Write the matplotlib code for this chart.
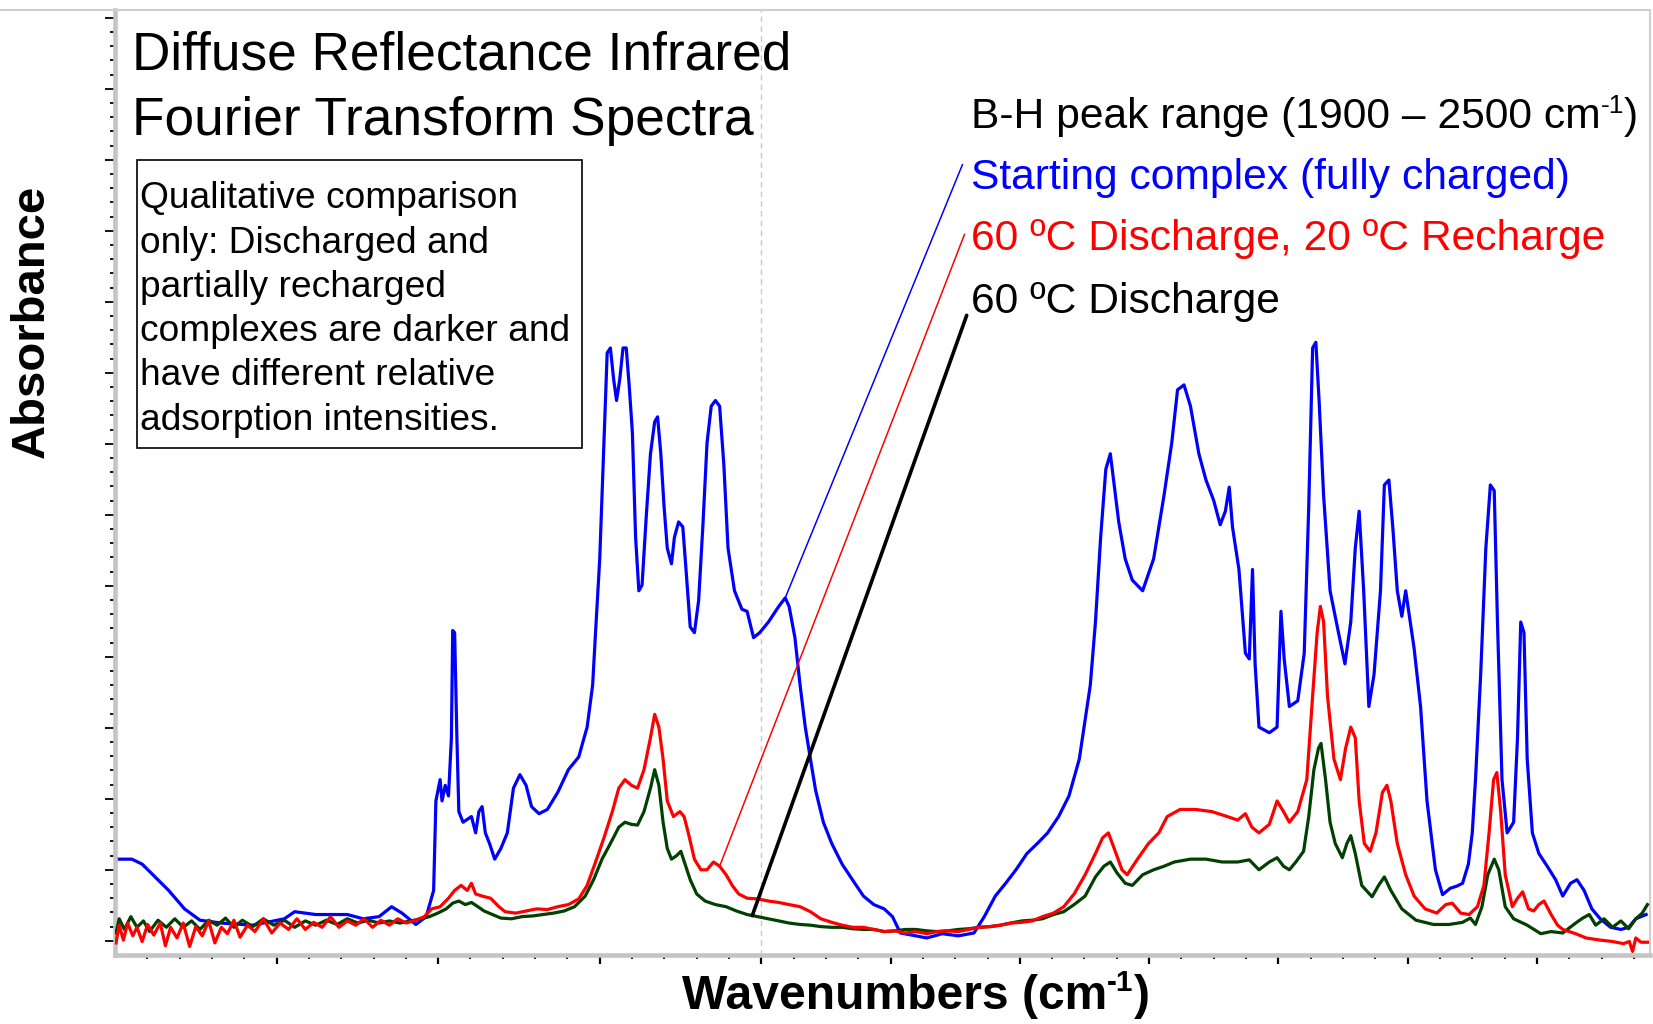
import matplotlib
matplotlib.use("Agg")
import matplotlib.pyplot as plt
import numpy as np
from matplotlib.patches import Rectangle
from matplotlib.lines import Line2D
from matplotlib.ticker import FixedLocator, NullFormatter

plt.rcParams["font.family"] = ["Liberation Sans", "DejaVu Sans"]

# --- spectra (wavenumber in cm-1, absorbance a.u.) ---
blue_wn = [3997, 3948, 3916, 3867, 3834, 3785, 3737, 3671, 3574, 3476,
           3444, 3379, 3281, 3232, 3183, 3144, 3112, 3069, 3037, 3014,
           3007, 2994, 2988, 2978, 2968, 2959, 2955, 2949, 2942, 2936,
           2923, 2897, 2884, 2874, 2864, 2854, 2841, 2825, 2806, 2786,
           2767, 2747, 2728, 2711, 2688, 2662, 2630, 2597, 2565, 2539,
           2522, 2513, 2500, 2487, 2477, 2467, 2457, 2448, 2438, 2428,
           2418, 2409, 2399, 2389, 2379, 2369, 2356, 2343, 2330, 2321,
           2311, 2301, 2291, 2278, 2269, 2256, 2243, 2233, 2220, 2207,
           2194, 2181, 2168, 2155, 2142, 2129, 2116, 2103, 2083, 2060,
           2044, 2024, 2005, 1989, 1973, 1963, 1957, 1948, 1940, 1932,
           1924, 1916, 1904, 1891, 1875, 1859, 1842, 1826, 1810, 1797,
           1785, 1761, 1744, 1720, 1695, 1671, 1655, 1638, 1622, 1606,
           1589, 1573, 1557, 1540, 1524, 1508, 1491, 1483, 1475, 1467,
           1460, 1454, 1447, 1437, 1426, 1410, 1393, 1377, 1365, 1356,
           1346, 1336, 1323, 1312, 1300, 1290, 1282, 1276, 1271, 1261,
           1251, 1245, 1240, 1236, 1230, 1214, 1202, 1196, 1191, 1183,
           1170, 1160, 1153, 1147, 1142, 1137, 1130, 1120, 1107, 1097,
           1088, 1081, 1075, 1068, 1060, 1052, 1042, 1036, 1029, 1023,
           1016, 1009, 1003, 996, 990, 980, 970, 957, 946, 934,
           924, 915, 906, 900, 895, 887, 879, 872, 866, 861,
           854, 846, 836, 830, 825, 820, 815, 807, 797, 784,
           771, 760, 748, 738, 727, 715, 702, 686, 670, 658,
           647, 639, 631]
blue_abs = [0.115, 0.115, 0.108, 0.086, 0.071, 0.045, 0.029, 0.025, 0.022, 0.031,
            0.041, 0.037, 0.037, 0.031, 0.034, 0.048, 0.039, 0.023, 0.034, 0.071,
            0.197, 0.227, 0.197, 0.219, 0.204, 0.286, 0.437, 0.434, 0.286, 0.182,
            0.167, 0.175, 0.152, 0.182, 0.189, 0.152, 0.137, 0.115, 0.130, 0.152,
            0.215, 0.234, 0.219, 0.189, 0.179, 0.185, 0.209, 0.241, 0.259, 0.301,
            0.360, 0.434, 0.538, 0.701, 0.828, 0.835, 0.791, 0.761, 0.791, 0.835,
            0.835, 0.783, 0.716, 0.568, 0.493, 0.501, 0.598, 0.686, 0.731, 0.738,
            0.686, 0.612, 0.553, 0.531, 0.568, 0.590, 0.583, 0.523, 0.442, 0.434,
            0.479, 0.583, 0.701, 0.753, 0.761, 0.753, 0.671, 0.553, 0.493, 0.467,
            0.464, 0.427, 0.434, 0.449, 0.471, 0.483, 0.471, 0.427, 0.360, 0.301,
            0.256, 0.212, 0.167, 0.137, 0.108, 0.086, 0.063, 0.051, 0.045, 0.034,
            0.011, 0.007, 0.004, 0.010, 0.007, 0.011, 0.034, 0.063, 0.081, 0.100,
            0.123, 0.137, 0.152, 0.175, 0.204, 0.256, 0.360, 0.449, 0.568, 0.664,
            0.686, 0.642, 0.590, 0.538, 0.508, 0.493, 0.538, 0.627, 0.701, 0.776,
            0.783, 0.753, 0.686, 0.649, 0.620, 0.586, 0.605, 0.639, 0.583, 0.523,
            0.405, 0.397, 0.523, 0.390, 0.301, 0.293, 0.301, 0.464, 0.397, 0.330,
            0.338, 0.405, 0.612, 0.835, 0.843, 0.761, 0.627, 0.493, 0.434, 0.390,
            0.449, 0.553, 0.605, 0.493, 0.330, 0.375, 0.493, 0.642, 0.649, 0.583,
            0.493, 0.457, 0.493, 0.449, 0.412, 0.330, 0.197, 0.100, 0.065, 0.074,
            0.077, 0.081, 0.108, 0.152, 0.227, 0.375, 0.553, 0.642, 0.634, 0.449,
            0.227, 0.152, 0.167, 0.286, 0.449, 0.434, 0.256, 0.152, 0.123, 0.105,
            0.086, 0.063, 0.081, 0.086, 0.071, 0.045, 0.031, 0.019, 0.016, 0.019,
            0.031, 0.034, 0.037]

red_wn = [3997, 3987, 3974, 3961, 3945, 3932, 3916, 3899, 3880, 3860,
          3844, 3828, 3808, 3789, 3769, 3750, 3730, 3710, 3691, 3671,
          3652, 3632, 3613, 3590, 3567, 3541, 3515, 3489, 3463, 3437,
          3411, 3385, 3359, 3333, 3307, 3281, 3255, 3229, 3203, 3177,
          3151, 3125, 3099, 3069, 3043, 3020, 2994, 2968, 2949, 2929,
          2910, 2897, 2884, 2864, 2838, 2812, 2793, 2760, 2728, 2695,
          2662, 2630, 2597, 2565, 2539, 2513, 2487, 2461, 2441, 2422,
          2402, 2383, 2363, 2343, 2330, 2317, 2304, 2291, 2272, 2252,
          2239, 2226, 2207, 2187, 2168, 2148, 2129, 2109, 2090, 2070,
          2044, 2011, 1989, 1973, 1957, 1940, 1924, 1908, 1891, 1875,
          1859, 1842, 1826, 1810, 1793, 1777, 1761, 1744, 1728, 1712,
          1695, 1679, 1663, 1646, 1630, 1614, 1597, 1581, 1565, 1548,
          1532, 1516, 1499, 1483, 1472, 1463, 1454, 1442, 1434, 1418,
          1401, 1385, 1372, 1352, 1328, 1303, 1279, 1263, 1251, 1241,
          1230, 1214, 1202, 1192, 1183, 1170, 1156, 1147, 1140, 1135,
          1130, 1124, 1114, 1104, 1096, 1088, 1081, 1075, 1067, 1058,
          1049, 1039, 1032, 1026, 1016, 1003, 990, 973, 955, 941,
          931, 918, 905, 892, 882, 874, 867, 862, 856, 849,
          838, 830, 822, 813, 805, 797, 789, 778, 768, 760,
          740, 724, 702, 683, 666, 657, 652, 647, 639, 629]
red_abs = [-0.003, 0.022, 0.001, 0.025, 0.007, 0.019, -0.001, 0.023, 0.008, 0.025,
           -0.007, 0.019, 0.004, 0.025, -0.008, 0.020, 0.007, 0.028, -0.003, 0.019,
           0.010, 0.029, 0.005, 0.022, 0.013, 0.031, 0.011, 0.025, 0.016, 0.031,
           0.016, 0.026, 0.019, 0.034, 0.019, 0.028, 0.022, 0.031, 0.019, 0.029,
           0.022, 0.031, 0.025, 0.029, 0.034, 0.045, 0.048, 0.060, 0.071, 0.078,
           0.071, 0.081, 0.066, 0.063, 0.060, 0.048, 0.041, 0.039, 0.042, 0.045,
           0.044, 0.048, 0.051, 0.059, 0.078, 0.111, 0.145, 0.182, 0.215, 0.227,
           0.219, 0.215, 0.241, 0.286, 0.319, 0.301, 0.256, 0.197, 0.175, 0.182,
           0.175, 0.152, 0.115, 0.100, 0.100, 0.111, 0.105, 0.093, 0.078, 0.066,
           0.060, 0.059, 0.056, 0.054, 0.051, 0.048, 0.041, 0.031, 0.026, 0.022,
           0.019, 0.019, 0.016, 0.013, 0.014, 0.011, 0.013, 0.010, 0.013, 0.014,
           0.013, 0.016, 0.019, 0.020, 0.022, 0.025, 0.026, 0.028, 0.034, 0.039,
           0.048, 0.066, 0.093, 0.123, 0.145, 0.152, 0.130, 0.100, 0.093, 0.115,
           0.137, 0.152, 0.175, 0.185, 0.185, 0.182, 0.175, 0.170, 0.179, 0.160,
           0.152, 0.164, 0.197, 0.182, 0.167, 0.182, 0.227, 0.345, 0.434, 0.471,
           0.449, 0.345, 0.256, 0.227, 0.271, 0.301, 0.286, 0.197, 0.137, 0.126,
           0.152, 0.209, 0.219, 0.197, 0.137, 0.093, 0.063, 0.045, 0.039, 0.051,
           0.053, 0.039, 0.037, 0.048, 0.078, 0.152, 0.227, 0.237, 0.182, 0.093,
           0.048, 0.060, 0.069, 0.045, 0.042, 0.051, 0.056, 0.037, 0.022, 0.016,
           0.010, 0.004, 0.001, -0.001, -0.004, -0.001, -0.015, 0.004, -0.002, -0.002]

green_wn = [3997, 3987, 3971, 3951, 3932, 3912, 3893, 3867, 3841, 3815,
            3789, 3763, 3737, 3710, 3684, 3658, 3632, 3606, 3574, 3541,
            3509, 3476, 3444, 3411, 3379, 3346, 3313, 3281, 3248, 3216,
            3183, 3151, 3118, 3086, 3053, 3027, 3001, 2975, 2955, 2936,
            2916, 2897, 2877, 2858, 2832, 2806, 2773, 2741, 2708, 2675,
            2643, 2610, 2578, 2545, 2519, 2493, 2467, 2441, 2422, 2402,
            2383, 2363, 2343, 2330, 2317, 2304, 2291, 2278, 2262, 2249,
            2236, 2220, 2200, 2174, 2142, 2109, 2077, 2044, 2011, 1989,
            1973, 1957, 1940, 1924, 1908, 1891, 1875, 1859, 1842, 1826,
            1810, 1793, 1777, 1761, 1744, 1728, 1712, 1695, 1679, 1663,
            1646, 1630, 1614, 1597, 1581, 1565, 1548, 1532, 1516, 1499,
            1483, 1470, 1460, 1450, 1437, 1426, 1410, 1393, 1377, 1361,
            1336, 1312, 1287, 1263, 1245, 1230, 1214, 1202, 1192, 1183,
            1173, 1161, 1153, 1145, 1138, 1134, 1127, 1120, 1112, 1101,
            1094, 1088, 1081, 1071, 1055, 1045, 1036, 1026, 1009, 987,
            960, 936, 915, 903, 895, 885, 876, 866, 859, 849,
            836, 815, 794, 778, 760, 740, 729, 719, 709, 696,
            683, 670, 658, 647, 637, 629]
green_abs = [0.011, 0.031, 0.016, 0.034, 0.019, 0.028, 0.013, 0.029, 0.019, 0.031,
             0.019, 0.028, 0.016, 0.029, 0.022, 0.032, 0.019, 0.029, 0.020, 0.031,
             0.022, 0.029, 0.019, 0.028, 0.022, 0.029, 0.023, 0.031, 0.025, 0.029,
             0.025, 0.028, 0.025, 0.028, 0.031, 0.034, 0.039, 0.045, 0.053, 0.056,
             0.051, 0.054, 0.048, 0.042, 0.037, 0.032, 0.031, 0.034, 0.035, 0.037,
             0.039, 0.042, 0.048, 0.063, 0.086, 0.115, 0.137, 0.160, 0.167, 0.164,
             0.163, 0.182, 0.215, 0.241, 0.219, 0.167, 0.130, 0.115, 0.120, 0.126,
             0.108, 0.086, 0.066, 0.056, 0.051, 0.048, 0.042, 0.037, 0.034, 0.031,
             0.028, 0.025, 0.023, 0.022, 0.020, 0.019, 0.019, 0.017, 0.016, 0.016,
             0.013, 0.014, 0.016, 0.016, 0.014, 0.013, 0.014, 0.016, 0.017, 0.019,
             0.020, 0.022, 0.025, 0.028, 0.029, 0.031, 0.037, 0.041, 0.051, 0.063,
             0.090, 0.105, 0.111, 0.096, 0.081, 0.078, 0.093, 0.100, 0.105, 0.111,
             0.115, 0.115, 0.111, 0.111, 0.114, 0.100, 0.111, 0.117, 0.105, 0.100,
             0.111, 0.126, 0.175, 0.241, 0.271, 0.278, 0.227, 0.167, 0.137, 0.117,
             0.137, 0.148, 0.123, 0.078, 0.062, 0.078, 0.090, 0.071, 0.045, 0.029,
             0.023, 0.023, 0.026, 0.032, 0.023, 0.048, 0.093, 0.115, 0.100, 0.048,
             0.031, 0.022, 0.010, 0.013, 0.011, 0.025, 0.032, 0.037, 0.022, 0.031,
             0.019, 0.028, 0.017, 0.031, 0.039, 0.051]

title_lines = ["Diffuse Reflectance Infrared", "Fourier Transform Spectra"]
note_lines = ["Qualitative comparison", "only: Discharged and", "partially recharged",
              "complexes are darker and", "have different relative",
              "adsorption intensities."]
range_parts = ("B-H peak range (1900 \u2013 2500 cm", "-1", ")")
xlabel_parts = ("Wavenumbers (cm", "-1", ")")
series_labels = ["Starting complex (fully charged)",
                 "60 \u00baC Discharge, 20 \u00baC Recharge",
                 "60 \u00baC Discharge"]
# wavenumbers where the pointer lines touch each spectrum
pointer_wn = [1963, 2129, 2028]

BLUE, RED, GREEN = "#0000ff", "#ff0000", "#004000"
SPINE = "#c4c4c4"


# OMNIC-style axis: 2000 cm-1 and below is stretched by a factor 2
def _fwd(w):
    w = np.asarray(w, dtype=float)
    return np.where(w >= 2000, w, 2 * w - 2000)


def _inv(u):
    u = np.asarray(u, dtype=float)
    return np.where(u >= 2000, u, (u + 2000) / 2)


def sup_text(fig, x, y, parts, size, ha="left", **kw):
    """Draw base + small raised superscript + tail, as plain text pieces."""
    base, sup, tail = parts
    renderer = fig.canvas.get_renderer()
    fw = fig.bbox.width
    rise = 0.36 * size * fig.dpi / 72 / fig.bbox.height
    pieces = [fig.text(x, y, base, fontsize=size, va="baseline", **kw)]
    pieces.append(fig.text(0, y + rise, sup, fontsize=size * 0.62, va="baseline", **kw))
    pieces.append(fig.text(0, y, tail, fontsize=size, va="baseline", **kw))
    cur = x
    for t in pieces:
        t.set_x(cur)
        cur += t.get_window_extent(renderer).width / fw
    if ha == "center":
        shift = (cur - x) / 2
        for t in pieces:
            t.set_x(t.get_position()[0] - shift)
    return pieces


fig = plt.figure(figsize=(16.53, 10.24), dpi=100)
ax = fig.add_axes([115 / 1653, 1 - 955 / 1024, 1535 / 1653, 945 / 1024])
ax.set_xscale("function", functions=(_fwd, _inv))
ax.set_xlim(4000, 625)
ax.set_ylim(-0.02, 1.311)

ax.axvline(2000, color="#c8c8c8", lw=1.0, ls=(0, (4, 3)), zorder=1)

ax.plot(blue_wn, blue_abs, color=BLUE, lw=2.3, zorder=2)
ax.plot(green_wn, green_abs, color=GREEN, lw=2.3, zorder=3)
ax.plot(red_wn, red_abs, color=RED, lw=2.3, zorder=4)

# ticks
major_x = [3500, 3000, 2500, 2000, 1800, 1600, 1400, 1200, 1000, 800]
minor_x = [w for w in range(3900, 2000, -100) if w % 500] + \
          [w for w in range(1950, 625, -50) if w % 200]
ax.xaxis.set_major_locator(FixedLocator(major_x))
ax.xaxis.set_minor_locator(FixedLocator(minor_x))
ax.yaxis.set_major_locator(FixedLocator(np.arange(0, 1.31, 0.1)))
ax.yaxis.set_minor_locator(FixedLocator(np.arange(0, 1.31, 0.02)))
for axis in (ax.xaxis, ax.yaxis):
    axis.set_major_formatter(NullFormatter())
    axis.set_minor_formatter(NullFormatter())
ax.tick_params(axis="x", which="major", direction="out", length=6.5, width=1.6, color="black")
ax.tick_params(axis="x", which="minor", direction="out", length=3, width=1.3, color="black")
ax.tick_params(axis="y", which="major", direction="out", length=7, width=1.3, color="black")
ax.tick_params(axis="y", which="minor", direction="out", length=3.5, width=1.3, color="black")

for side in ("left", "bottom"):
    ax.spines[side].set_color(SPINE)
    ax.spines[side].set_linewidth(3.3)
for side in ("top", "right"):
    ax.spines[side].set_color("#cfcfcf")
    ax.spines[side].set_linewidth(1.5)
fig.add_artist(Line2D([0, 115 / 1653], [1 - 10 / 1024] * 2, color="#cfcfcf", lw=1.5))

# axis labels
fig.text(0.0191, 1 - 0.314, "Absorbance", rotation=90, fontsize=34, fontweight="bold",
         ha="center", va="center")
sup_text(fig, 0.554, 1 - 0.985, xlabel_parts, 34.6, ha="center", fontweight="bold")

# title
for i, line in enumerate(title_lines):
    fig.text(0.0797, 1 - (0.0680 + i * 0.0639), line, fontsize=38.3, ha="left", va="baseline")

# note box
fig.add_artist(Rectangle((130 / 1568, 1 - 425 / 971), 422 / 1568, 273 / 971,
                         transform=fig.transFigure, fill=False, ec="black", lw=1.2))
for i, line in enumerate(note_lines):
    fig.text(133 / 1568, 1 - (197.5 + 42 * i) / 971, line, fontsize=26.7,
             ha="left", va="baseline")

# legend-like labels on the right
sup_text(fig, 921 / 1568, 1 - 121.5 / 971, range_parts, 30.7)
label_colors = [BLUE, RED, "black"]
label_base = [179.5, 237.5, 296.5]
for lab, col, yb in zip(series_labels, label_colors, label_base):
    fig.text(921 / 1568, 1 - yb / 971, lab, fontsize=30.7, color=col, ha="left", va="baseline")

# pointer lines from the labels to the spectra
starts = [(913 / 1568, 1 - 156 / 971), (915 / 1568, 1 - 222 / 971), (917 / 1568, 1 - 299 / 971)]
curves = [(blue_wn, blue_abs), (red_wn, red_abs), (green_wn, green_abs)]
widths = [1.1, 1.1, 2.6]
for (wn, ab), target, start, col, lw in zip(curves, pointer_wn, starts, label_colors, widths):
    y_end = np.interp(target, wn[::-1], ab[::-1])
    ax.annotate("", xy=(target, y_end), xycoords="data", xytext=start,
                textcoords="figure fraction",
                arrowprops=dict(arrowstyle="-", color=col, lw=lw, shrinkA=0, shrinkB=0),
                zorder=6)

fig.savefig("out.png", dpi=100)
